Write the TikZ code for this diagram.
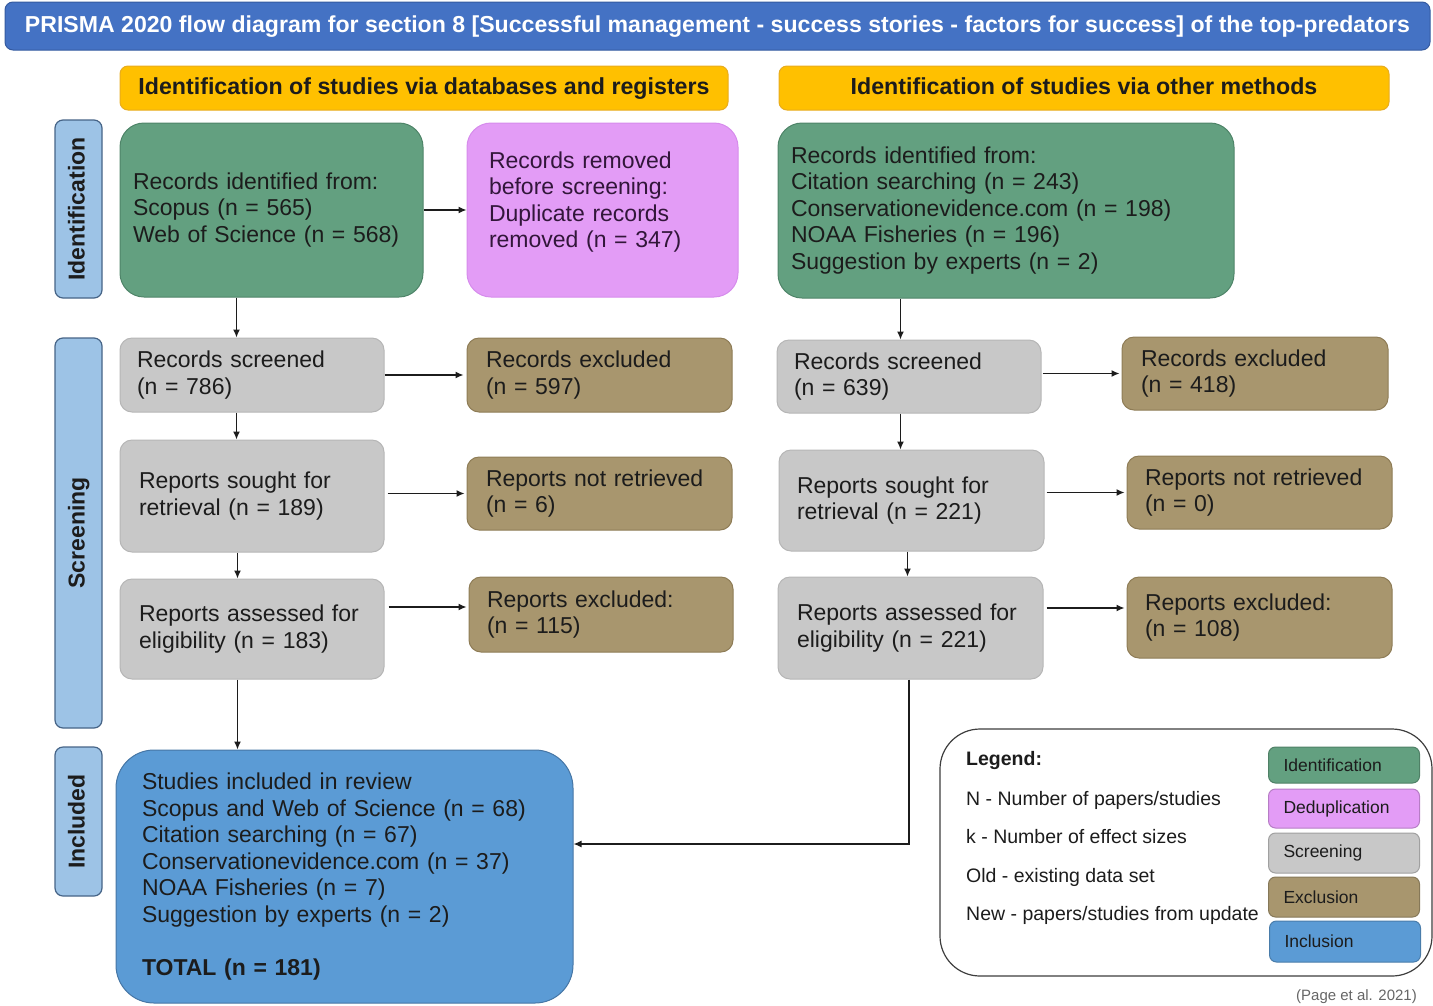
\documentclass[tikz,border=0pt]{standalone}
\usepackage{fontspec}
\setmainfont{Liberation Sans}
\usetikzlibrary{arrows.meta}

\definecolor{titleblue}{RGB}{68,114,196}
\definecolor{titleedge}{RGB}{52,90,160}
\definecolor{hdryellow}{RGB}{255,192,0}
\definecolor{hdredge}{RGB}{232,172,30}
\definecolor{idgreen}{RGB}{99,160,128}
\definecolor{idedge}{RGB}{78,132,104}
\definecolor{duppink}{RGB}{227,156,246}
\definecolor{dupedge}{RGB}{214,140,236}
\definecolor{duptext}{RGB}{50,22,58}
\definecolor{scrgray}{RGB}{200,200,200}
\definecolor{scredge}{RGB}{182,182,182}
\definecolor{exctan}{RGB}{168,150,110}
\definecolor{excedge}{RGB}{142,124,86}
\definecolor{incblue}{RGB}{91,155,213}
\definecolor{incedge}{RGB}{70,118,165}
\definecolor{sideblue}{RGB}{157,195,230}
\definecolor{sideedge}{RGB}{70,100,135}
\definecolor{inktext}{RGB}{28,28,28}

\tikzset{
  body/.style={draw, line width=1pt, text=inktext, align=left, inner ysep=0pt,
    font=\fontsize{23}{26.5}\selectfont},
  idbox/.style={body, fill=idgreen, draw=idedge, rounded corners=24pt},
  dupbox/.style={body, fill=duppink, draw=dupedge, rounded corners=24pt, text=duptext},
  scrbox/.style={body, fill=scrgray, draw=scredge, rounded corners=12pt},
  excbox/.style={body, fill=exctan, draw=excedge, rounded corners=12pt},
  incbox/.style={body, fill=incblue, draw=incedge, rounded corners=38pt},
  sidebox/.style={draw=sideedge, line width=1.2pt, fill=sideblue, rounded corners=8pt,
    rotate=90, minimum height=47pt, inner sep=0pt, text=inktext,
    text height=16.5pt, text depth=4.5pt,
    font=\fontsize{23}{26}\selectfont\bfseries},
  hdrbox/.style={draw=hdredge, line width=1pt, fill=hdryellow, rounded corners=8pt,
    minimum height=44pt, inner sep=0pt, text=inktext,
    text height=16.5pt, text depth=4.5pt,
    font=\fontsize{23.2}{26}\selectfont\bfseries},
  keybox/.style={draw=#1!80!black, fill=#1, line width=1pt, rounded corners=7pt,
    minimum width=151pt, inner xsep=15pt, text width=121pt, align=left,
    text=inktext, font=\fontsize{17.5}{20}\selectfont},
  arr/.style={draw=inktext, line width=1.3pt, -{Latex[length=8pt,width=7pt]}}
}

\begin{document}
\begin{tikzpicture}[x=1pt,y=-1pt]
\useasboundingbox (0,0) rectangle (1433,1005);

% title bar
\node[draw=titleedge, line width=1pt, fill=titleblue, rounded corners=8pt,
  minimum width=1425pt, minimum height=48pt, inner sep=0pt, text=white,
  text height=16.5pt, text depth=4.5pt,
  font=\fontsize{23.1}{26}\selectfont\bfseries] (title) at (717.5,26)
  {PRISMA 2020 flow diagram for section 8 [Successful management - success stories - factors for success] of the top-predators};

% column headers
\node[hdrbox, minimum width=608pt] (hdrA) at (424,88) {Identification of studies via databases and registers};
\node[hdrbox, minimum width=610pt] (hdrB) at (1084,88) {Identification of studies via other methods};

% phase labels
\node[sidebox, minimum width=178pt] (phId) at (78.5,209) {Identification};
\node[sidebox, minimum width=390pt] (phScr) at (78.5,533) {Screening};
\node[sidebox, minimum width=149pt] (phInc) at (78.5,821.5) {Included};

% databases and registers
\node[idbox, minimum height=174pt, inner xsep=13pt, text width=277pt] (idA) at (271.5,210)
  {Records identified from:\\Scopus (n = 565)\\Web of Science (n = 568)};
\node[dupbox, minimum height=174pt, inner xsep=22pt, text width=227pt] (dupA) at (602.5,210)
  {\raisebox{8pt}[\height][\depth]{\parbox{227pt}{\raggedright
   Records removed\\before screening:\\Duplicate records\\removed (n = 347)}}};
\node[scrbox, minimum height=74pt, inner xsep=17pt, text width=230pt] (scrA) at (252,375)
  {Records screened\\(n = 786)};
\node[excbox, minimum height=74pt, inner xsep=19pt, text width=227pt] (rexA) at (599.5,375)
  {Records excluded\\(n = 597)};
\node[scrbox, minimum height=112pt, inner xsep=19pt, text width=226pt] (srA) at (252,496)
  {Reports sought for\\retrieval (n = 189)};
\node[excbox, minimum height=73pt, inner xsep=19pt, text width=227pt] (nrA) at (599.5,493.5)
  {Reports not retrieved\\(n = 6)};
\node[scrbox, minimum height=100pt, inner xsep=19pt, text width=226pt] (asA) at (252,629)
  {Reports assessed for\\eligibility (n = 183)};
\node[excbox, minimum height=75pt, inner xsep=18pt, text width=228pt] (exA) at (601,614.5)
  {Reports excluded:\\(n = 115)};

% other methods
\node[idbox, minimum height=175pt, inner xsep=13pt, text width=430pt] (idB) at (1006,210.5)
  {Records identified from:\\Citation searching (n = 243)\\Conservationevidence.com (n = 198)\\NOAA Fisheries (n = 196)\\Suggestion by experts (n = 2)};
\node[scrbox, minimum height=73pt, inner xsep=17pt, text width=230pt] (scrB) at (909,376.5)
  {Records screened\\(n = 639)};
\node[excbox, minimum height=73pt, inner xsep=19pt, text width=228pt] (rexB) at (1255,373.5)
  {Records excluded\\(n = 418)};
\node[scrbox, minimum height=101pt, inner xsep=18pt, text width=229pt] (srB) at (911.5,500.5)
  {Reports sought for\\retrieval (n = 221)};
\node[excbox, minimum height=73pt, inner xsep=18pt, text width=229pt] (nrB) at (1259.5,492.5)
  {Reports not retrieved\\(n = 0)};
\node[scrbox, minimum height=102pt, inner xsep=19pt, text width=227pt] (asB) at (910.5,628)
  {Reports assessed for\\eligibility (n = 221)};
\node[excbox, minimum height=81pt, inner xsep=18pt, text width=229pt] (exB) at (1259.5,617.5)
  {Reports excluded:\\(n = 108)};

% included studies
\node[incbox, minimum height=253pt, inner xsep=26pt, text width=405pt] (inc) at (344.5,876.5)
  {Studies included in review\\Scopus and Web of Science (n = 68)\\Citation searching (n = 67)\\Conservationevidence.com (n = 37)\\NOAA Fisheries (n = 7)\\Suggestion by experts (n = 2)\\[26.5pt]\textbf{TOTAL (n = 181)}};

% flow: databases and registers
\draw[arr] (idA.east) -- (dupA.west);
\draw[arr] ([xshift=117pt]idA.south west) -- ([xshift=117pt]idA.south west |- scrA.north);
\draw[arr] (scrA.east) -- ([xshift=-3pt]rexA.west);
\draw[arr] ([xshift=117pt]scrA.south west) -- ([xshift=117pt]scrA.south west |- srA.north);
\draw[arr] ([xshift=3pt]nrA.west -| srA.east) -- ([xshift=-2pt]nrA.west);
\draw[arr] ([xshift=118pt]srA.south west) -- ([xshift=118pt]srA.south west |- asA.north);
\draw[arr] ([xshift=4pt,yshift=7.5pt]exA.west -| asA.east) -- ([xshift=-2pt,yshift=7.5pt]exA.west);
\draw[arr] ([xshift=118pt]asA.south west) -- ([xshift=118pt]asA.south west |- inc.north);

% flow: other methods
\draw[arr] ([xshift=123pt]idB.south west) -- ([xshift=123pt]idB.south west |- scrB.north);
\draw[arr] ([xshift=1pt]rexB.west -| scrB.east) -- ([xshift=-2pt]rexB.west);
\draw[arr] ([xshift=124pt]scrB.south west) -- ([xshift=124pt]scrB.south west |- srB.north);
\draw[arr] ([xshift=2pt]nrB.west -| srB.east) -- ([xshift=-2pt]nrB.west);
\draw[arr] ([xshift=129pt]srB.south west) -- ([xshift=129pt]srB.south west |- asB.north);
\draw[arr] ([xshift=3pt,yshift=9.5pt]exB.west -| asB.east) -- ([xshift=-2pt,yshift=9.5pt]exB.west);
\draw[arr] ([xshift=-1.5pt]asB.south) |- ([yshift=32.5pt]inc.east);

% legend
\node[draw=inktext!85, line width=1.2pt, rounded corners=40pt, minimum width=492pt,
  minimum height=247pt, inner sep=0pt] (legend) at (1186,852.5) {};
\node[anchor=north west, inner sep=0pt, align=left, text=inktext,
  font=\fontsize{19.5}{38.5}\selectfont] (legtext) at (966,751)
  {\textbf{Legend:}\\[1.5pt]N - Number of papers/studies\\k - Number of effect sizes\\Old - existing data set\\New - papers/studies from update};
\node[keybox=idgreen, minimum height=36pt] (kId) at (1344,765) {Identification};
\node[keybox=duppink, minimum height=39pt] (kDup) at (1344,808.5) {Deduplication};
\node[keybox=scrgray, minimum height=40pt] (kScr) at (1344,853) {Screening};
\node[keybox=exctan, minimum height=40pt] (kExc) at (1344,897) {Exclusion};
\node[keybox=incblue, minimum height=41pt] (kInc) at (1345,941.5) {Inclusion};

\node[anchor=east, inner sep=0pt, text=black!60, font=\fontsize{15}{18}\selectfont] (cite)
  at (1417,997) {(Page et al. 2021)};
\end{tikzpicture}
\end{document}
